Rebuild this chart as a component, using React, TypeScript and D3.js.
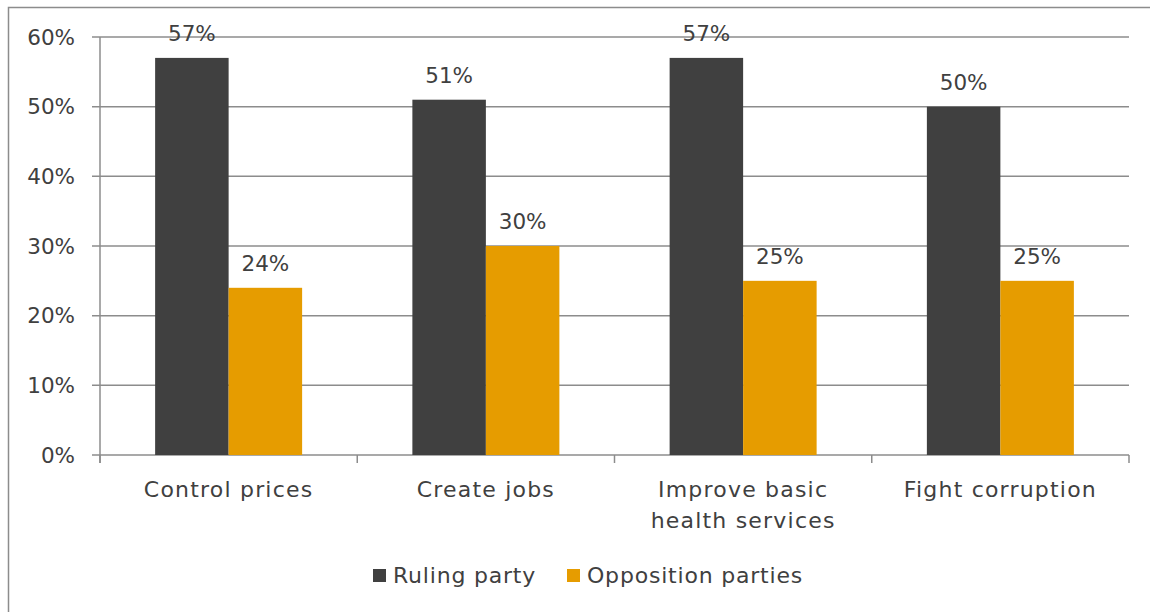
import React from "react";
import * as d3 from "d3";

const categories = ["Control prices", "Create jobs", "Improve basic\nhealth services", "Fight corruption"];
const seriesNames = ["Ruling party", "Opposition parties"];
const rulingParty = [57, 51, 57, 50];
const oppositionParties = [24, 30, 25, 25];
const yTicks = [0, 10, 20, 30, 40, 50, 60];
const colors = ["#404040", "#E69C00"];

const W = 1150, H = 612;
const margin = { left: 100, right: 21, top: 37, bottom: 157 };
const FONT = "'Century Gothic', 'URW Gothic', 'DejaVu Sans', sans-serif";
const FS = 21.5;

export default function App() {
  const x = d3.scaleBand<string>().domain(categories).range([margin.left, W - margin.right]).paddingInner(0).paddingOuter(0);
  const y = d3.scaleLinear().domain([0, 60]).range([H - margin.bottom, margin.top]);
  const inner = d3.scaleBand<number>().domain([0, 1]).range([0, x.bandwidth()]).paddingOuter(0.75).paddingInner(0);
  const series = [rulingParty, oppositionParties];
  const textColor = "#404040";
  const gridColor = "#8c8c8c";
  return (
    <svg width={W} height={H} style={{ position: "absolute", left: 0, top: 0, background: "#fff" }}>
      <rect x={8.5} y={7.5} width={W + 10} height={H} fill="none" stroke="#8c8c8c" strokeWidth={1.5} />
      {yTicks.map((t) => (
        <g key={t}>
          <line x1={margin.left - 8} x2={W - margin.right} y1={y(t)} y2={y(t)} stroke={gridColor} strokeWidth={1.5} />
          <text x={75} y={y(t)} dy="0.36em" textAnchor="end" fontSize={FS} fill={textColor} fontFamily={FONT}>{t}%</text>
        </g>
      ))}
      <line x1={margin.left} x2={margin.left} y1={margin.top} y2={y(0) + 8} stroke={gridColor} strokeWidth={1.5} />
      {categories.map((c, i) => (
        <line key={"tk" + i} x1={x(c)!} x2={x(c)!} y1={y(0)} y2={y(0) + 8} stroke={gridColor} strokeWidth={1.5} />
      ))}
      <line x1={W - margin.right} x2={W - margin.right} y1={y(0)} y2={y(0) + 8} stroke={gridColor} strokeWidth={1.5} />
      {categories.map((c, i) => (
        <g key={c}>
          {series.map((s, j) => {
            const bx = x(c)! + inner(j)!;
            return (
              <g key={j}>
                <rect x={bx} y={y(s[i])} width={inner.bandwidth()} height={y(0) - y(s[i])} fill={colors[j]} />
                <text x={bx + inner.bandwidth() / 2} y={y(s[i]) - 17} textAnchor="middle" fontSize={FS} fill={textColor} fontFamily={FONT}>{s[i]}%</text>
              </g>
            );
          })}
          {c.split("\n").map((line, k) => (
            <text key={k} x={x(c)! + x.bandwidth() / 2} y={497 + k * 31} textAnchor="middle" fontSize={22} letterSpacing={1.2} fill={textColor} fontFamily={FONT}>{line}</text>
          ))}
        </g>
      ))}
      <g>
        <rect x={373} y={569} width={13} height={13} fill={colors[0]} />
        <text x={393} y={583} fontSize={22} letterSpacing={0.8} fill={textColor} fontFamily={FONT}>{seriesNames[0]}</text>
        <rect x={567} y={569} width={13} height={13} fill={colors[1]} />
        <text x={587} y={583} fontSize={22} letterSpacing={0.8} fill={textColor} fontFamily={FONT}>{seriesNames[1]}</text>
      </g>
    </svg>
  );
}
